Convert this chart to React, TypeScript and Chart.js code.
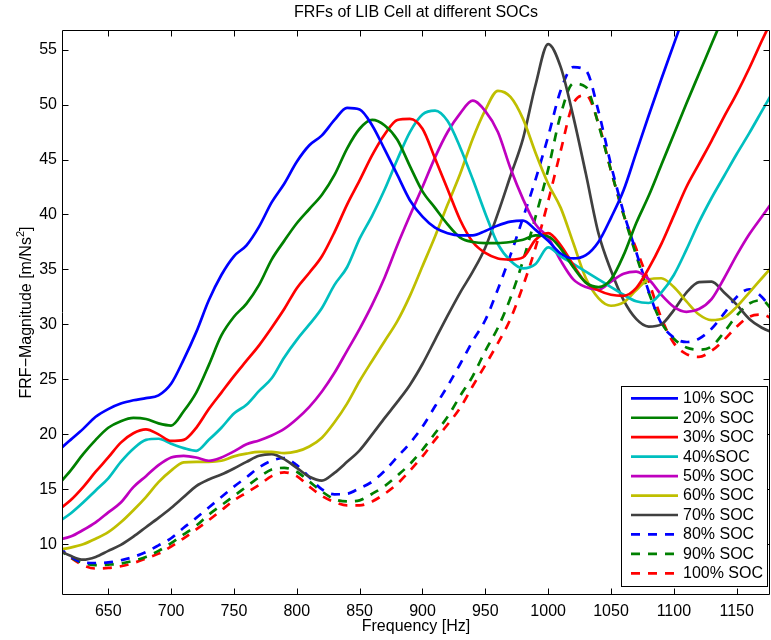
import { useEffect, useRef } from "react";
import { Chart, registerables } from "chart.js";

Chart.register(...registerables);

// Frequency grid (Hz) shared by every SOC curve
const FREQ = [
  610, 620, 630, 640, 650, 660, 670, 680, 690, 700,
  710, 720, 730, 740, 750, 760, 770, 780, 790, 800,
  810, 820, 830, 840, 850, 860, 870, 880, 890, 900,
  910, 920, 930, 940, 950, 960, 970, 980, 990, 1000,
  1010, 1020, 1030, 1040, 1050, 1060, 1070, 1080, 1090, 1100,
  1110, 1120, 1130, 1140, 1150, 1160, 1170, 1180,
];

// FRF magnitude [m/Ns^2] per state of charge
const SOC10 = [
  18.5, 19.5, 20.5, 21.6, 22.3, 22.8, 23.1, 23.3, 23.55, 24.6,
  26.8, 29.3, 32.2, 34.5, 36.2, 37.2, 38.9, 41.1, 42.8, 44.8,
  46.3, 47.2, 48.6, 49.7, 49.55, 48.1, 45.9, 43.6, 41.3, 39.8,
  38.8, 38.3, 38.1, 38.1, 38.5, 39.0, 39.35, 39.45, 38.6, 37.6,
  36.45, 36.0, 36.3, 37.5, 39.7, 42.2, 45.6, 49.0, 52.3, 55.5,
  58.7, 62, 65, 68, 71, 74, 77, 80,
];
const SOC20 = [
  15.4, 16.7, 18.2, 19.5, 20.6, 21.2, 21.5, 21.4, 21.0, 20.8,
  22.1, 23.8, 26.3, 29.0, 30.7, 31.9, 33.6, 35.9, 37.6, 39.2,
  40.5, 41.8, 43.6, 46.0, 47.8, 48.6, 48.1, 46.8, 44.4, 42.1,
  40.6, 39.1, 37.9, 37.5, 37.4, 37.4, 37.5, 37.7, 38.1, 38.0,
  36.9, 35.2, 33.8, 33.4, 34.1, 36.3, 39.2, 41.7, 44.5, 47.3,
  50.1, 52.8, 55.5, 58.2, 60.8, 63.4, 66.0, 68.6,
];
const SOC30 = [
  13.1, 14.0, 15.2, 16.6, 17.9, 19.25, 20.1, 20.45, 20.0, 19.4,
  19.5, 20.6, 22.3, 23.8, 25.3, 26.7, 28.1, 29.7, 31.4, 33.3,
  34.7, 36.2, 38.4, 40.9, 43.1, 45.4, 47.3, 48.6, 48.7, 47.8,
  45.1, 42.3, 39.5, 37.5, 36.5, 36.0, 35.9, 36.1, 37.7, 38.3,
  37.2, 35.4, 33.8, 33.1, 32.7, 32.6, 33.3, 35.1, 37.3, 39.9,
  42.5, 44.6, 46.7, 48.9, 51.0, 53.3, 55.8, 58.2,
];
const SOC40 = [
  12.0, 12.8, 13.8, 14.9, 16.0, 17.5, 18.7, 19.5, 19.6, 19.15,
  18.75, 18.5, 19.5, 20.6, 21.9, 22.7, 23.95, 25.1, 27.0, 28.6,
  30.0, 31.5, 33.6, 35.2, 37.8, 39.9, 42.3, 45.0, 47.5, 49.1,
  49.45, 48.5, 46.1, 43.2, 40.1, 37.3, 35.8, 35.1, 35.5, 37.0,
  36.2, 35.5, 34.8, 34.1, 33.4, 32.7, 32.1, 31.95, 32.9, 34.5,
  36.8, 39.3, 41.5, 43.5, 45.5, 47.4, 49.4, 51.4,
];
const SOC50 = [
  10.4, 10.7, 11.3, 12.0, 12.9, 13.8, 15.2, 16.2, 17.2, 17.9,
  18.05, 17.9, 17.6, 17.9, 18.45, 19.1, 19.45, 19.9, 20.5, 21.4,
  22.5, 23.9, 25.6, 27.6, 29.6, 31.8, 34.3, 37.2, 39.9, 42.5,
  45.2, 47.5, 49.2, 50.35, 49.4, 47.5, 44.2, 41.4, 39.1, 37.9,
  35.8, 34.1, 33.4, 33.15, 33.9, 34.6, 34.8, 34.1, 32.7, 31.6,
  31.15, 31.4, 32.3, 34.2, 36.3, 38.2, 39.8, 41.4,
];
const SOC60 = [
  9.5, 9.7, 10.0, 10.5, 11.1, 12.0, 13.1, 14.3, 15.65, 16.7,
  17.45, 17.5, 17.5, 17.6, 18.0, 18.25, 18.4, 18.4, 18.3, 18.45,
  18.9, 19.7, 21.1, 22.8, 24.85, 26.7, 28.5, 30.3, 32.6, 35.3,
  38.0, 40.9, 43.7, 46.9, 49.5, 51.25, 50.7, 48.7, 45.6, 42.8,
  40.6, 37.4, 34.2, 32.4, 31.7, 32.0, 33.1, 34.1, 34.2, 33.4,
  32.1, 30.9, 30.4, 30.6, 31.6, 32.9, 34.2, 35.5,
];
const SOC70 = [
  9.5, 8.95, 8.6, 8.85, 9.4, 9.95, 10.7, 11.55, 12.4, 13.3,
  14.3, 15.3, 15.9, 16.35, 16.9, 17.5, 18.05, 18.2, 17.75, 16.95,
  16.15, 15.8, 16.5, 17.5, 18.55, 20.0, 21.5, 22.95, 24.5, 26.4,
  28.6, 30.8, 32.9, 34.8, 37.0, 40.1, 43.5, 46.9, 51.8, 55.5,
  53.4, 48.9, 43.7, 38.3, 34.9, 32.2, 30.5, 29.8, 30.0, 31.3,
  32.9, 33.85, 33.9, 32.9, 31.8, 30.5, 29.7, 29.2,
];
const SOC80 = [
  9.8, 8.9, 8.35, 8.3, 8.35, 8.55, 8.85, 9.3, 9.9, 10.55,
  11.5, 12.4, 13.35, 14.3, 15.25, 16.1, 17.0, 17.6, 17.85, 17.2,
  16.1, 15.0, 14.55, 14.6, 15.1, 15.7, 16.7, 17.95, 19.2, 20.7,
  22.55, 24.4, 26.4, 28.5, 30.4, 33.2, 36.3, 39.7, 43.2, 47.1,
  51.3, 53.4, 53.1, 49.4, 44.5, 40.2, 36.6, 33.0, 30.1, 28.8,
  28.4, 28.7, 29.6, 31.0, 32.5, 33.2, 32.5, 31.0,
];
const SOC90 = [
  9.6, 8.8, 8.3, 8.1, 8.15, 8.25, 8.5, 8.85, 9.4, 10.1,
  10.9, 11.7, 12.7, 13.55, 14.4, 15.25, 16.1, 16.8, 16.95, 16.6,
  15.7, 14.8, 14.1, 13.9, 14.0, 14.6, 15.3, 16.25, 17.3, 18.6,
  20.1, 21.6, 23.5, 25.3, 27.6, 29.7, 32.4, 35.8, 39.8, 44.1,
  49.1, 51.9, 51.6, 48.2, 44.0, 40.0, 36.3, 32.9, 30.2, 28.7,
  27.9, 27.7, 28.0, 29.3, 30.8, 31.9, 32.2, 31.0,
];
const SOC100 = [
  9.7, 8.8, 8.1, 7.8, 7.85, 8.0, 8.3, 8.7, 9.15, 9.8,
  10.55, 11.35, 12.2, 13.1, 14.0, 14.7, 15.4, 16.2, 16.55, 16.2,
  15.25, 14.4, 13.85, 13.55, 13.55, 13.9, 14.6, 15.5, 16.7, 18.0,
  19.5, 20.9, 22.4, 24.4, 26.3, 28.3, 30.5, 33.5, 37.0, 41.2,
  45.8, 50.1, 50.85, 48.3, 44.0, 40.0, 36.9, 33.9, 30.6, 28.3,
  27.3, 27.05, 27.6, 28.6, 29.8, 30.7, 30.9, 30.4,
];

const LABELS = [
  "10% SOC", "20% SOC", "30% SOC", "40%SOC", "50% SOC",
  "60% SOC", "70% SOC", "80% SOC", "90% SOC", "100% SOC",
];
const VALUES = [SOC10, SOC20, SOC30, SOC40, SOC50, SOC60, SOC70, SOC80, SOC90, SOC100];
const COLORS = [
  "#0000ff", "#008000", "#ff0000", "#00bfbf", "#bf00bf",
  "#bfbf00", "#404040", "#0000ff", "#008000", "#ff0000",
];
const DASHED = [false, false, false, false, false, false, false, true, true, true];

const X_TICKS = [650, 700, 750, 800, 850, 900, 950, 1000, 1050, 1100, 1150];
const Y_TICKS = [10, 15, 20, 25, 30, 35, 40, 45, 50, 55];
const X_RANGE = [613.2, 1176.5];
const Y_RANGE = [5.48, 56.69];

const FONT = "Liberation Sans, Arial, Helvetica, sans-serif";
const DASH = [9, 8];
const LINE_W = 2.7;

// Box around the axes with MATLAB-style inward ticks on all four sides
const framePlugin = {
  id: "frame",
  afterDatasetsDraw(chart: any) {
    const { ctx, chartArea: a, scales } = chart;
    const L = Math.round(a.left) + 0.5;
    const R = Math.round(a.right) - 0.5;
    const T = Math.round(a.top) - 0.5;
    const B = Math.round(a.bottom) + 0.5;
    const tl = 6;
    ctx.save();
    ctx.strokeStyle = "#000";
    ctx.lineWidth = 1;
    ctx.beginPath();
    ctx.rect(L, T, R - L, B - T);
    for (const v of X_TICKS) {
      const x = Math.round(scales.x.getPixelForValue(v)) + 0.5;
      ctx.moveTo(x, B);
      ctx.lineTo(x, B - tl);
      ctx.moveTo(x, T);
      ctx.lineTo(x, T + tl);
    }
    for (const v of Y_TICKS) {
      const y = Math.round(scales.y.getPixelForValue(v)) + 0.5;
      ctx.moveTo(L, y);
      ctx.lineTo(L + tl, y);
      ctx.moveTo(R, y);
      ctx.lineTo(R - tl, y);
    }
    ctx.stroke();
    ctx.restore();
  },
};

// Title, axis labels (with superscript) and the boxed legend
const annotationPlugin = {
  id: "annotations",
  afterDraw(chart: any) {
    const { ctx, chartArea: a } = chart;
    const cx = (a.left + a.right) / 2;
    const cy = (a.top + a.bottom) / 2;
    ctx.save();
    ctx.fillStyle = "#000";
    ctx.font = `16px ${FONT}`;
    ctx.textAlign = "center";
    ctx.textBaseline = "middle";
    ctx.fillText("FRFs of LIB Cell at different SOCs", cx, 13);
    ctx.fillText("Frequency [Hz]", cx, 627);

    // y-axis label, rotated, with a raised "2"
    ctx.save();
    ctx.translate(27, cy);
    ctx.rotate(-Math.PI / 2);
    const main = "FRF\u2212Magnitude [m/Ns";
    const tail = "]";
    ctx.font = `16px ${FONT}`;
    const wMain = ctx.measureText(main).width;
    const wTail = ctx.measureText(tail).width;
    ctx.font = `11px ${FONT}`;
    const wSup = ctx.measureText("2").width;
    const total = wMain + wSup + wTail;
    let x0 = -total / 2;
    ctx.textAlign = "left";
    ctx.font = `16px ${FONT}`;
    ctx.fillText(main, x0, 0);
    x0 += wMain;
    ctx.font = `11px ${FONT}`;
    ctx.fillText("2", x0, -6);
    x0 += wSup;
    ctx.font = `16px ${FONT}`;
    ctx.fillText(tail, x0, 0);
    ctx.restore();

    // legend box
    const boxR = a.right - 3;
    const boxB = a.bottom - 8;
    const boxW = 146;
    const boxH = 200;
    const boxL = boxR - boxW;
    const boxT = boxB - boxH;
    ctx.fillStyle = "#fff";
    ctx.fillRect(boxL, boxT, boxW, boxH);
    ctx.strokeStyle = "#000";
    ctx.lineWidth = 1;
    ctx.strokeRect(Math.round(boxL) + 0.5, Math.round(boxT) + 0.5, boxW, boxH);
    chart.data.datasets.forEach((ds: any, i: number) => {
      const y = boxT + 12.3 + i * 19.45;
      ctx.save();
      ctx.strokeStyle = ds.borderColor;
      ctx.lineWidth = LINE_W;
      ctx.setLineDash(ds.borderDash || []);
      ctx.beginPath();
      ctx.moveTo(boxL + 10, y);
      ctx.lineTo(boxL + 57, y);
      ctx.stroke();
      ctx.restore();
      ctx.fillStyle = "#000";
      ctx.font = `16px ${FONT}`;
      ctx.textAlign = "left";
      ctx.textBaseline = "middle";
      ctx.fillText(ds.label, boxL + 62, y + 0.5);
    });
    ctx.restore();
  },
};

export default function App() {
  const canvasRef = useRef<HTMLCanvasElement>(null);

  useEffect(() => {
    document.body.style.margin = "0";
    const canvas = canvasRef.current;
    if (!canvas) return;

    const datasets = VALUES.map((vals, i) => ({
      label: LABELS[i],
      data: FREQ.map((f, j) => ({ x: f, y: vals[j] })),
      borderColor: COLORS[i],
      backgroundColor: COLORS[i],
      borderWidth: LINE_W,
      borderDash: DASHED[i] ? DASH : [],
      borderCapStyle: "butt" as const,
      borderJoinStyle: "round" as const,
      pointRadius: 0,
      pointHoverRadius: 0,
      fill: false,
      cubicInterpolationMode: "monotone" as const,
      clip: 0,
    }));

    const chart = new Chart(canvas, {
      type: "line",
      data: { datasets },
      plugins: [framePlugin, annotationPlugin],
      options: {
        animation: false,
        responsive: false,
        devicePixelRatio: 1,
        events: [],
        elements: { line: { capBezierPoints: false } },
        layout: { padding: { top: 31, left: 0, right: 1, bottom: 0 } },
        plugins: {
          legend: { display: false },
          title: { display: false },
          tooltip: { enabled: false },
        },
        scales: {
          x: {
            type: "linear",
            min: X_RANGE[0],
            max: X_RANGE[1],
            afterBuildTicks: (s: any) => {
              s.ticks = X_TICKS.map((v) => ({ value: v }));
            },
            afterFit: (s: any) => {
              s.height = 46;
            },
            grid: { display: false, drawTicks: false },
            border: { display: false },
            ticks: {
              autoSkip: false,
              maxRotation: 0,
              padding: 8,
              color: "#000",
              font: { family: FONT, size: 16 },
              callback: (v: any) => String(v),
            },
          },
          y: {
            type: "linear",
            min: Y_RANGE[0],
            max: Y_RANGE[1],
            afterBuildTicks: (s: any) => {
              s.ticks = Y_TICKS.map((v) => ({ value: v }));
            },
            afterFit: (s: any) => {
              s.width = 62;
            },
            grid: { display: false, drawTicks: false },
            border: { display: false },
            ticks: {
              autoSkip: false,
              padding: 5,
              color: "#000",
              font: { family: FONT, size: 16 },
              callback: (v: any) => String(v),
            },
          },
        },
      },
    });

    return () => chart.destroy();
  }, []);

  return (
    <div style={{ width: 771, height: 640 }}>
      <canvas ref={canvasRef} width={771} height={640} style={{ display: "block" }} />
    </div>
  );
}
